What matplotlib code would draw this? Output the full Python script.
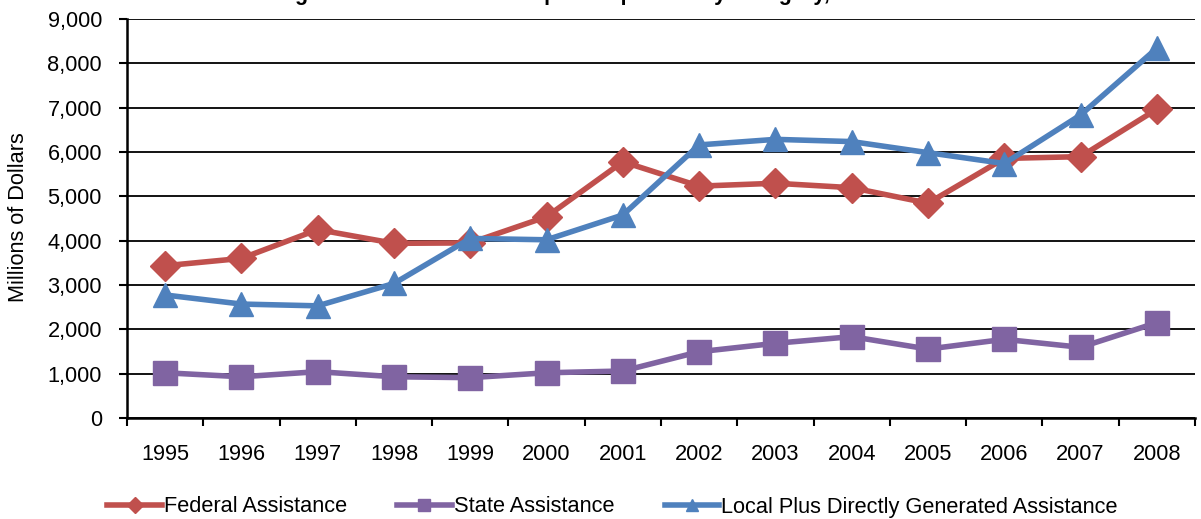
import numpy as np
import matplotlib as mpl
from matplotlib import pyplot as plt

plt.rcParams["font.family"] = ["Liberation Sans", "DejaVu Sans"]

years = ["1995", "1996", "1997", "1998", "1999", "2000", "2001",
         "2002", "2003", "2004", "2005", "2006", "2007", "2008"]
federal = [3435, 3600, 4250, 3940, 3950, 4540, 5780,
           5230, 5295, 5195, 4845, 5855, 5895, 6965]
state = [1020, 930, 1045, 930, 910, 1020, 1060,
         1495, 1685, 1835, 1555, 1775, 1595, 2150]
local = [2775, 2570, 2530, 3035, 4050, 4020, 4580,
         6160, 6285, 6235, 5985, 5740, 6835, 8340]
y_ticks = [0, 1000, 2000, 3000, 4000, 5000, 6000, 7000, 8000, 9000]

fig = plt.figure(figsize=(12.01, 5.19), dpi=100)
ax = fig.add_axes([127 / 1201, 1 - 418 / 519, 1068 / 1201, 399 / 519])

x = np.arange(len(years))
ax.plot(x, federal, "-D", color="#C0504D", lw=4, ms=15,
        label="Federal Assistance", zorder=3)
ax.plot(x, state, "-s", color="#8064A2", lw=4, ms=17,
        label="State Assistance", zorder=3)
ax.plot(x, local, "-^", color="#4F81BD", lw=4, ms=17,
        label="Local Plus Directly Generated Assistance", zorder=4)

ax.set_xlim(-0.5, len(years) - 0.5)
ax.set_ylim(0, 9000)
ax.set_yticks(y_ticks)
ax.set_yticklabels([f"{v:,}" for v in y_ticks])
ax.set_xticks(x)
ax.set_xticklabels(years)
ax.set_xticks(np.arange(-0.5, len(years), 1), minor=True)

ax.yaxis.grid(True, color="black", lw=1.3)
ax.set_axisbelow(True)
for s in ["top", "right"]:
    ax.spines[s].set_visible(False)
ax.spines["left"].set_linewidth(1.8)
ax.spines["bottom"].set_linewidth(1.8)

ax.tick_params(axis="x", which="major", length=0, pad=19, labelsize=15.7)
ax.tick_params(axis="x", which="minor", length=6, width=1.5, direction="out")
ax.tick_params(axis="y", length=6, width=1.5, pad=12, labelsize=15.7)

fig.text(19 / 1201, 1 - 217 / 519, "Millions of Dollars", rotation=90,
         ha="center", va="center", fontsize=15.7)

# title sits mostly above the picture, only the bottom of the letters shows
fig.text(223 / 1201, 1.0,
         "Funding Sources for Transit Capital Expenses by Category, 1995 - 2008",
         ha="left", va="baseline", fontsize=15.5, fontweight="bold")

fig.legend(loc="center", bbox_to_anchor=(0.51, 1 - 507 / 519), ncol=3,
           frameon=False, fontsize=15.7, markerscale=0.55, handlelength=2.5,
           handletextpad=0.1, columnspacing=2.3, borderaxespad=0)

fig.savefig("out.png", dpi=100)
